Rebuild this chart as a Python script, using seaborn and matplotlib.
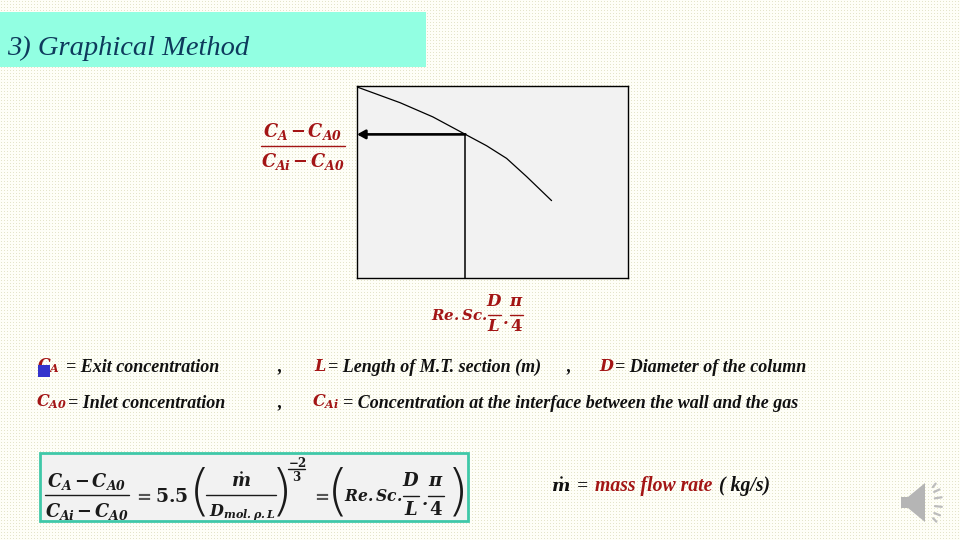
import numpy as np
import pandas as pd
import matplotlib
matplotlib.use("Agg")
import matplotlib.pyplot as plt
from matplotlib.patches import Rectangle, Polygon
import seaborn as sns

# Values (axis fractions, the chart has no numeric ticks)
curve_x = [0.0, 0.159, 0.28, 0.40, 0.478, 0.552, 0.626, 0.718]
curve_y = [0.995, 0.913, 0.839, 0.748, 0.689, 0.623, 0.528, 0.403]
read_x = 0.40
read_y = 0.748

title = "3) Graphical Method"
RED = "#A31515"
NAVY = "#0E3A5C"
SERIF = "Liberation Serif"

sns.set_theme(style="white")
plt.rcParams["mathtext.fontset"] = "custom"
plt.rcParams["mathtext.bfit"] = "DejaVu Serif:italic:bold"
plt.rcParams["mathtext.bf"] = "DejaVu Serif:bold"
plt.rcParams["mathtext.rm"] = "DejaVu Serif"
plt.rcParams["mathtext.it"] = "DejaVu Serif:italic"
W, H = 960, 540
fig = plt.figure(figsize=(W / 100, H / 100), dpi=100)

# Dotted slide background
tex = np.ones((H, W, 3)) * np.array([254, 254, 247]) / 255
tex[1::3, 1::3] = np.array([228, 228, 202]) / 255
fig.figimage(tex, 0, 0, zorder=-5, origin="upper")
fig.patch.set_alpha(0)

# Pixel-coordinate overlay for slide furniture
ov = fig.add_axes([0, 0, 1, 1], zorder=1)
ov.set_xlim(0, W)
ov.set_ylim(H, 0)
ov.axis("off")
ov.patch.set_alpha(0)

ov.add_patch(Rectangle((0, 12), 426, 55, fc="#92FFE2", ec="none"))
ov.text(7, 48, title, family=SERIF, style="italic", fontsize=20.5, color=NAVY,
        va="center", ha="left")

# Main chart
ax = fig.add_axes([357 / W, 1 - 278 / H, 271 / W, 192 / H], zorder=2)
ax.set_facecolor("#F2F2F2")
df = pd.DataFrame({"x": curve_x, "y": curve_y})
sns.lineplot(data=df, x="x", y="y", ax=ax, color="black", lw=0.9, errorbar=None)
ax.set_xlim(0, 1)
ax.set_ylim(0, 1)
ax.set_xticks([])
ax.set_yticks([])
ax.set_xlabel("")
ax.set_ylabel("")
for s in ax.spines.values():
    s.set_visible(True)
    s.set_color("black")
    s.set_linewidth(1.0)
ax.plot([read_x, read_x], [0, read_y], color="black", lw=1.1)
ax.annotate("", xy=(0, read_y), xytext=(read_x, read_y),
            arrowprops=dict(arrowstyle="-|>,head_width=0.22,head_length=0.4",
                            color="black", lw=1.9, shrinkA=0, shrinkB=0))


def m(x, y, s, size=13, color=RED, ha="center"):
    ov.text(x, y, s, fontsize=size, color=color, ha=ha, va="center", zorder=5)


def t(x, y, s, size=13, color="#111111", ha="left"):
    ov.text(x, y, s, family=SERIF, style="italic", weight="bold", fontsize=size,
            color=color, ha=ha, va="center", zorder=5)


def bar(x0, x1, y, color=RED, lw=1.0):
    ov.plot([x0, x1], [y, y], color=color, lw=lw, zorder=5)


def mdot(x, y, s, color):
    m(x, y, r"$\mathbfit{m}$", s, color)
    ov.plot([x], [y - s * 0.72], "o", ms=1.8, color=color, mew=0, zorder=5)


NUM = r"$\mathbfit{C_A\,{-}\,C_{A0}}$"
DEN = r"$\mathbfit{C_{Ai}\,{-}\,C_{A0}}$"

# y-axis label
m(303, 132, NUM, 12.8)
bar(261, 345, 146)
m(303, 161, DEN, 12.8)

# x-axis label
m(459, 315, r"$\mathbfit{Re{.}Sc{.}}$", 10.8)
m(494, 301, r"$\mathbfit{D}$", 12)
bar(488, 501, 314.5)
m(494, 326, r"$\mathbfit{L}$", 12)
m(505, 319, r"$\mathbfit{.}$", 12)
m(516, 301, r"$\mathbfit{\pi}$", 12)
bar(510, 523, 314.5)
m(516, 326, r"$\mathbf{4}$", 12)

# Definitions
m(37, 366, r"$\mathbfit{C_{A}}$", 11.5, ha="left")
t(66, 367, "= Exit concentration")
t(277, 367, ",")
m(314, 366, r"$\mathbfit{L}$", 11.5, ha="left")
t(328, 367, "= Length of M.T. section (m)")
t(566, 367, ",")
m(599, 366, r"$\mathbfit{D}$", 11.5, ha="left")
t(615, 367, "= Diameter of the column")
ov.add_patch(Rectangle((38, 365), 12, 12, fc="#3333CC", ec="none", zorder=6))

m(36, 402, r"$\mathbfit{C_{A0}}$", 11.5, ha="left")
t(68, 403, "= Inlet concentration")
t(277, 403, ",")
m(312, 402, r"$\mathbfit{C_{Ai}}$", 11.5, ha="left")
t(343, 403, "= Concentration at the interface between the wall and the gas")

# Boxed equation
ov.add_patch(Rectangle((40, 453), 428, 68, fc="#F2F2F2", ec="#3FC8A8", lw=2, zorder=3))
K = "#1A1A1A"
m(87, 481, NUM, 12.8, K)
bar(45, 129, 495, K)
m(87, 511, DEN, 12.8, K)
m(142, 496, r"$\mathbf{=}$", 13, "#555555")
m(172, 496, r"$\mathbf{5.5}$", 13.5, K)
PAREN = dict(family="DejaVu Sans", fontsize=40, weight="ultralight", color=K,
             ha="center", va="center", zorder=5)
ov.text(200, 494, "(", **PAREN)
mdot(241, 481, 13, K)
bar(206, 276, 495, K)
m(242, 512, r"$\mathbfit{D_{mol{.}\rho{.}L}}$", 11.5, K)
ov.text(282, 494, ")", **PAREN)
m(297, 463, r"$\mathbf{-2}$", 8.5, K)
bar(288, 305, 469, K)
m(297, 477, r"$\mathbf{3}$", 8.5, K)
m(320, 496, r"$\mathbf{=}$", 13, "#555555")
ov.text(338, 494, "(", **PAREN)
m(373, 496, r"$\mathbfit{Re{.}Sc{.}}$", 11.2, K)
m(411, 481, r"$\mathbfit{D}$", 13, K)
bar(403, 419, 496, K)
m(411, 510, r"$\mathbfit{L}$", 13, K)
m(424, 500, r"$\mathbfit{.}$", 13, K)
m(436, 481, r"$\mathbfit{\pi}$", 13, K)
bar(428, 444, 496, K)
m(436, 510, r"$\mathbf{4}$", 13, K)
ov.text(458, 494, ")", **PAREN)

# Mass flow note
mdot(561, 486, 12.5, "#111111")
t(577, 486, "=", 14)
t(595, 486, "mass flow rate", 14.2, RED)
t(719, 486, "( kg/s)", 14.2)

# Speaker icon
ov.add_patch(Polygon([(901, 497), (908, 497), (925, 483), (925, 522), (908, 508), (901, 508)],
                     closed=True, fc="#B5B5B5", ec="none", zorder=5))
for a in (-62, -38, -15, 10, 34, 58):
    r = np.deg2rad(a)
    ov.plot([930 + 4 * np.cos(r) + 1, 930 + 12 * np.cos(r)],
            [503 + 18 * np.sin(r), 503 + 22 * np.sin(r)], color="#BDBDBD", lw=1.6,
            zorder=5, solid_capstyle="round")

fig.savefig("out.png", dpi=100, facecolor=fig.get_facecolor())
